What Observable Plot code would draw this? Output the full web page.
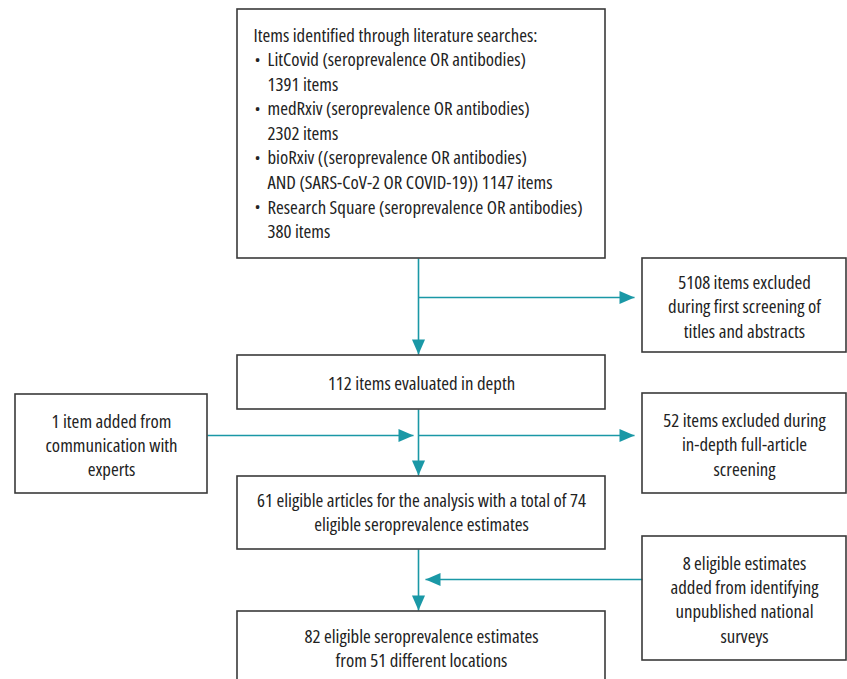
<!DOCTYPE html>
<html><head><meta charset="utf-8">
<script src="https://cdn.jsdelivr.net/npm/d3@7"></script>
<script src="https://cdn.jsdelivr.net/npm/@observablehq/plot@0.6"></script>
<style>
html,body{margin:0;padding:0;background:#fff;}
svg text{font-stretch:condensed;}
</style>
</head><body>
<div id="chart"></div>
<script>
// Flowchart content
const boxIds = ["search","excl1","depth","expert","excl2","eligible","national","final"];
const boxLabels = [
  "",
  "5108 items excluded\nduring first screening of\ntitles and abstracts",
  "112 items evaluated in depth",
  "1 item added from\ncommunication with\nexperts",
  "52 items excluded during\nin-depth full-article\nscreening",
  "61 eligible articles for the analysis with a total of 74\neligible seroprevalence estimates",
  "8 eligible estimates\nadded from identifying\nunpublished national\nsurveys",
  "82 eligible seroprevalence estimates\nfrom 51 different locations"
];
const searchTitle = "Items identified through literature searches:";
const searchSources = [
  "LitCovid (seroprevalence OR antibodies)\n1391 items",
  "medRxiv (seroprevalence OR antibodies)\n2302 items",
  "bioRxiv ((seroprevalence OR antibodies)\nAND (SARS-CoV-2 OR COVID-19)) 1147 items",
  "Research Square (seroprevalence OR antibodies)\n380 items"
];
// connections: from -> to
const flowFrom = ["search","search","depth","expert","depth","eligible","national"];
const flowTo   = ["depth","excl1","eligible","eligible","excl2","final","final"];

// ---------- layout (pixel space of the figure) ----------
const layout = {
  search:   [237, 605, 9, 258],
  excl1:    [642, 846, 258, 352],
  depth:    [237, 605, 355, 409],
  expert:   [15, 207, 394, 493],
  excl2:    [642, 846, 393, 493],
  eligible: [237, 605, 476, 549],
  national: [642, 846, 536, 660],
  final:    [237, 605, 611, 690]
};
const boxes = boxIds.map((id, i) => {
  const [x1, x2, y1, y2] = layout[id];
  return {id, label: boxLabels[i], x1, x2, y1, y2, cx: (x1 + x2) / 2, cy: (y1 + y2) / 2};
});
const B = Object.fromEntries(boxes.map(b => [b.id, b]));
B.final.cy = 647;
B.eligible.cy = 510.5;
const spineX = 418;

// link segments + arrow heads derived from flow connections
const segs = [];
const heads = [];
flowFrom.forEach((f, i) => {
  const a = B[f], b = B[flowTo[i]];
  if (a.x1 === b.x1) { // vertical spine
    segs.push({x1: spineX, y1: a.y2, x2: spineX, y2: b.y1 - 1});
    heads.push({x: spineX, y: b.y1 - 1, r: 90});
  } else if (b.x1 > a.x2 && a.x1 === 237) { // spine to right
    const y = b.id === "excl1" ? 297 : 435;
    segs.push({x1: spineX, y1: y, x2: b.x1 - 8, y2: y});
    heads.push({x: b.x1 - 8, y, r: 0});
  } else if (a.x2 < b.x1) { // left box into spine
    const y = 435;
    segs.push({x1: a.x2, y1: y, x2: spineX - 5, y2: y});
    heads.push({x: spineX - 5, y, r: 0});
  } else { // right box back to spine
    const y = 579;
    segs.push({x1: a.x1, y1: y, x2: spineX + 7, y2: y});
    heads.push({x: spineX + 7, y, r: 180});
  }
});

const triangle = {
  draw(ctx) { ctx.moveTo(0, 0); ctx.lineTo(-15, -6.5); ctx.lineTo(-15, 6.5); ctx.closePath(); }
};

// search box text lines
const searchLines = [{text: searchTitle, x: 253, y: 35}];
const bullets = [];
let yy = 59.5;
searchSources.forEach(s => {
  bullets.push({x: 257, y: yy});
  s.split("\n").forEach(line => { searchLines.push({text: line, x: 267, y: yy}); yy += 24.6; });
});

const teal = "#1a98a6";
const font = "Open Sans";
const centerBoxes = boxes.filter(b => b.label);
const fs = 18.8;

const chart = Plot.plot({
  width: 847, height: 679,
  margin: 0,
  x: {domain: [0, 847], range: [0, 847], axis: null},
  y: {domain: [0, 679], range: [0, 679], axis: null},
  style: {fontFamily: font, background: "#fff"},
  marks: [
    Plot.link(segs, {x1: "x1", y1: "y1", x2: "x2", y2: "y2", stroke: teal, strokeWidth: 1.6}),
    Plot.dot(heads, {x: "x", y: "y", rotate: "r", symbol: triangle, fill: teal, stroke: "none", r: 5}),
    Plot.rect(boxes, {x1: "x1", x2: "x2", y1: "y1", y2: "y2", fill: "#fff", fillOpacity: 0, stroke: "#3a3a3a", strokeWidth: 1.6}),
    Plot.text(centerBoxes, {x: "cx", y: "cy", text: "label", fontFamily: font, fontSize: fs, lineHeight: 1.29, fill: "#222", textAnchor: "middle"}),
    Plot.text(searchLines, {x: "x", y: "y", text: "text", fontFamily: font, fontSize: fs, fill: "#222", textAnchor: "start"}),
    Plot.text(bullets, {x: "x", y: "y", text: () => "•", fontFamily: font, fontSize: 15, fill: "#222", textAnchor: "middle"})
  ]
});
document.getElementById("chart").appendChild(chart);
</script>
</body></html>
